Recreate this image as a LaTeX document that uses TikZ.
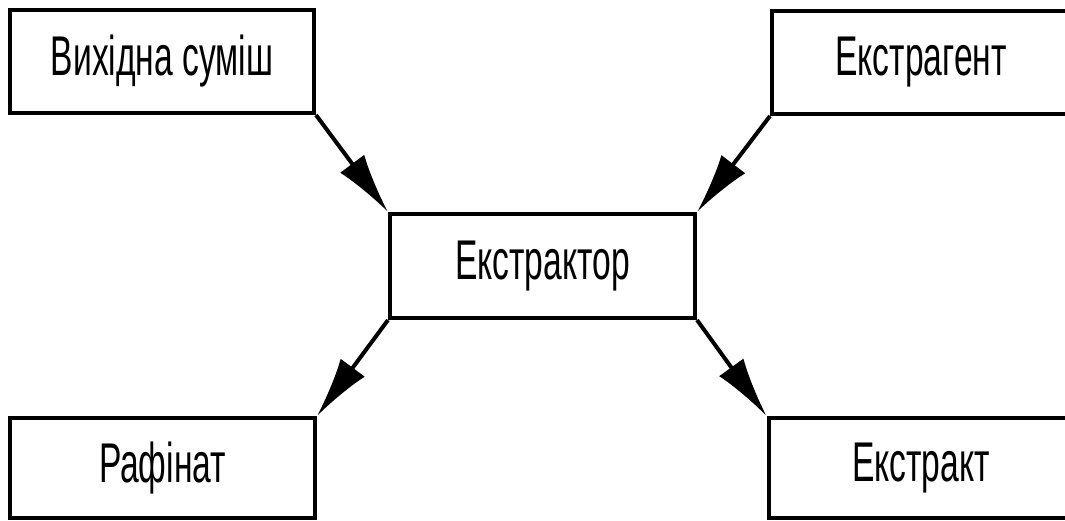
\documentclass[tikz,border=0pt]{standalone}
\usepackage{fontspec}
\setmainfont{Liberation Sans}[FakeStretch=0.6]
\usetikzlibrary{arrows.meta}
\begin{document}
\begin{tikzpicture}[x=1pt,y=-1pt,
  boxnode/.style={draw=black,line width=4pt,rectangle,inner sep=0pt,
    minimum width=304pt,minimum height=103pt,
    font=\fontsize{56}{60}\selectfont},
  flow/.style={line width=4pt,-{Latex[length=60pt,width=30pt]}}]
\useasboundingbox (0,0) rectangle (1065,520);
\begin{scope}
\clip (0,0) rectangle (1065,520);
\node[boxnode] (mix) at (162,61.5) {Вихідна суміш};
\node[boxnode,minimum width=298pt] (ext) at (921,62.5) {Екстрагент};
\node[boxnode,minimum width=305pt,minimum height=104pt] (ctr) at (542.5,266) {Екстрактор};
\node[boxnode,minimum width=305pt,minimum height=100pt] (raf) at (162.5,468) {Рафінат};
\node[boxnode,minimum width=305pt,minimum height=100pt] (extr) at (921,468) {Екстракт};
\end{scope}
\draw[flow] (mix.south east) -- (ctr.north west);
\draw[flow] (ext.south west) -- (ctr.north east);
\draw[flow] (ctr.south west) -- (raf.north east);
\draw[flow] (ctr.south east) -- (extr.north west);
\end{tikzpicture}
\end{document}
